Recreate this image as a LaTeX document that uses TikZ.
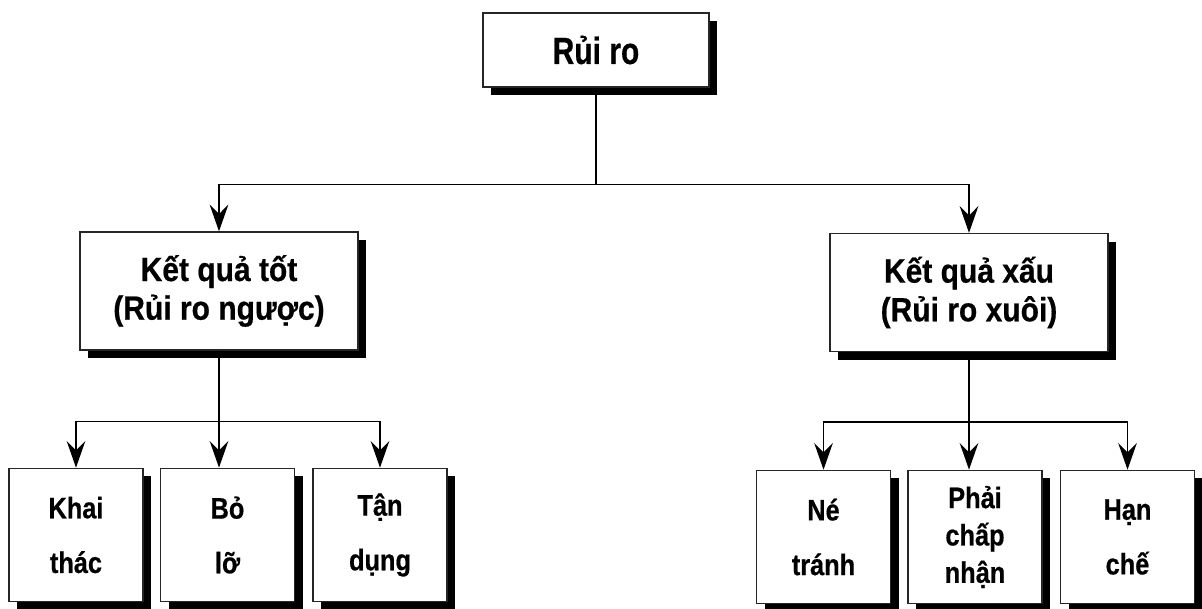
\documentclass[tikz,border=0pt]{standalone}
\usepackage{fontspec}
\setmainfont{Liberation Sans}[BoldFeatures={FakeBold=0.6}]
\usetikzlibrary{arrows.meta,shadows}

\newcommand\tall[2][1.17]{\scalebox{1}[#1]{#2}}

\tikzset{
  box/.style={draw=black!85, fill=white, line width=1pt, inner sep=0pt, align=center,
    drop shadow={shadow xshift=6pt, shadow yshift=-6pt, fill=black, opacity=1}},
  head/.style={box, minimum width=208.5pt, minimum height=88.5pt,
    font=\bfseries\fontsize{22.5}{29}\selectfont},
  leaf/.style={box, minimum width=100.5pt, minimum height=100pt,
    font=\bfseries\fontsize{19}{41}\selectfont},
  link/.style={line width=1.2pt},
  arr/.style={link, -{Stealth[length=20pt,width=14pt,inset=7pt]}}
}

\begin{document}
\begin{tikzpicture}[x=0.75pt, y=-0.75pt]
  \useasboundingbox (0,0) rectangle (1202,608);
  \node[box, minimum width=169.5pt, minimum height=55.5pt,
    font=\bfseries\fontsize{22.5}{27}\selectfont] (risk) at (596,50) {\tall[1.26]{Rủi ro}};
  \node[head] (good) at (219,291) {\tall[1.12]{Kết quả tốt}\\\tall[1.12]{(Rủi ro ngược)}};
  \node[head] (bad) at (969,292.5) {\tall[1.12]{Kết quả xấu}\\\tall[1.12]{(Rủi ro xuôi)}};
  \node[leaf] (khai) at (76,535) {\tall{Khai}\\\tall{thác}};
  \node[leaf] (bo) at (227.5,535) {\tall{Bỏ}\\\tall{lỡ}};
  \node[leaf] (tan) at (380,535) {\tall{Tận}\\\tall{dụng}};
  \node[leaf] (ne) at (823.5,537) {\tall{Né}\\\tall{tránh}};
  \node[leaf, font=\bfseries\fontsize{19}{28}\selectfont] (phai) at (975,537) {\tall{Phải}\\\tall{chấp}\\\tall{nhận}};
  \node[leaf] (han) at (1127.5,537) {\tall{Hạn}\\\tall{chế}};

  \path (risk.south) ++(0,97) coordinate (split);
  \path (good.south) ++(0,71) coordinate (gsplit);
  \path (bad.south) ++(0,70) coordinate (bsplit);

  \draw[link] (risk.south) -- (split);
  \draw[arr] (split) -| (good.north);
  \draw[arr] (split) -| (bad.north);

  \draw[link] (good.south) -- (gsplit);
  \draw[arr] (gsplit) -| (khai.north);
  \draw[arr] (gsplit) -- (gsplit |- bo.north);
  \draw[arr] (gsplit) -| (tan.north);

  \draw[link] (bad.south) -- (bsplit);
  \draw[arr] (bsplit) -| (ne.north);
  \draw[arr] (bsplit) -- (bsplit |- phai.north);
  \draw[arr] (bsplit) -| (han.north);
\end{tikzpicture}
\end{document}
